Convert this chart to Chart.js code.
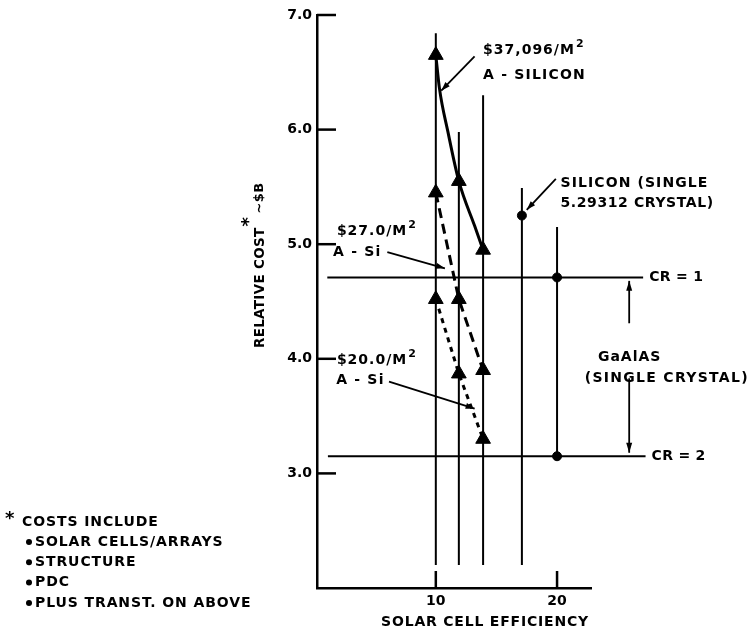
<!DOCTYPE html>
<html>
<head>
<meta charset="utf-8">
<script src="https://cdn.jsdelivr.net/npm/chart.js@4"></script>
<style>
html,body{margin:0;padding:0;background:#fff;}
canvas{display:block;}
</style>
</head>
<body>
<canvas id="c" width="750" height="634"></canvas>
<script>
// ---------- data ----------
const xTicks = [10, 20];
const yTicks = [3, 4, 5, 6, 7];

// vertical efficiency lines
const lineEff    = [10, 11.9, 13.9, 17.1, 20];
const lineTop    = [6.84, 5.98, 6.30, 5.49, 5.15];
const lineBottom = [2.2, 2.2, 2.2, 2.2, 3.15];

// a-Si triangles
const aSiEff   = [10, 11.9, 13.9];
const cost37096 = [6.65, 5.55, 4.95];
const cost27    = [5.45, 4.52, 3.90];
const cost20    = [4.52, 3.87, 3.30];

// solid $37,096 curve traced
const curveEff  = [10, 10.3, 11.0, 11.9, 13.2, 13.9];
const curveCost = [6.65, 6.36, 5.98, 5.55, 5.16, 4.95];

// single crystal points
const siEff = [17.1];
const siCost = [5.25];
const gaEff = [20, 20];
const crCost = [4.71, 3.15];        // CR = 1, CR = 2
const crStart = [1.05, 1.1];
const crEnd = [27.1, 27.3];
const crLabels = ['CR = 1', 'CR = 2'];

const FONT = '"DejaVu Sans", "Liberation Sans", sans-serif';

function pts(xs, ys){ return xs.map((x,i)=>({x:x, y:ys[i]})); }

const datasets = [];
lineEff.forEach((e,i)=>{
  datasets.push({data:[{x:e,y:lineBottom[i]},{x:e,y:lineTop[i]}], showLine:true, borderColor:'#000', borderWidth:2, pointRadius:0});
});
crCost.forEach((c,i)=>{
  datasets.push({data:[{x:crStart[i],y:c},{x:crEnd[i],y:c}], showLine:true, borderColor:'#000', borderWidth:2, pointRadius:0, clip:false});
});
datasets.push({data:pts(curveEff, curveCost), showLine:true, borderColor:'#000', borderWidth:3, pointRadius:0, cubicInterpolationMode:'monotone'});
datasets.push({data:pts(aSiEff, cost37096), showLine:false, pointStyle:'triangle', pointRadius:8.5, backgroundColor:'#000', borderColor:'#000', borderWidth:1});
datasets.push({data:pts(aSiEff, cost27), showLine:true, borderColor:'#000', borderWidth:3, borderDash:[10,6], pointStyle:'triangle', pointRadius:8.5, backgroundColor:'#000', pointBorderColor:'#000', pointBorderWidth:1});
datasets.push({data:pts(aSiEff, cost20), showLine:true, borderColor:'#000', borderWidth:3, borderDash:[5,5], pointStyle:'triangle', pointRadius:8.5, backgroundColor:'#000', pointBorderColor:'#000', pointBorderWidth:1});
datasets.push({data:pts(siEff, siCost).concat(pts(gaEff, crCost)), showLine:false, pointStyle:'circle', pointRadius:4.5, backgroundColor:'#000', borderColor:'#000', clip:false});

function arrowHead(ctx, x1, y1, x2, y2, len, wid){
  const a = Math.atan2(y2-y1, x2-x1);
  ctx.beginPath();
  ctx.moveTo(x2, y2);
  ctx.lineTo(x2 - len*Math.cos(a) + wid*Math.sin(a), y2 - len*Math.sin(a) - wid*Math.cos(a));
  ctx.lineTo(x2 - len*Math.cos(a) - wid*Math.sin(a), y2 - len*Math.sin(a) + wid*Math.cos(a));
  ctx.closePath();
  ctx.fill();
}
function arrow(ctx, x1, y1, x2, y2){
  ctx.beginPath(); ctx.moveTo(x1,y1); ctx.lineTo(x2,y2); ctx.stroke();
  arrowHead(ctx, x1, y1, x2, y2, 9, 3);
}
function txt(ctx, s, x, y, size, spacing, align){
  ctx.font = 'bold ' + size + 'px ' + FONT;
  ctx.letterSpacing = (spacing||0) + 'px';
  ctx.textAlign = align || 'left';
  ctx.textBaseline = 'middle';
  ctx.fillText(s, x, y);
  const w = ctx.measureText(s).width;
  ctx.letterSpacing = '0px';
  return w;
}
function txtM2(ctx, s, x, y){
  const w = txt(ctx, s, x, y, 14, 1);
  txt(ctx, '2', x + w + 1, y - 6, 11, 0);
}

const annot = {
  id: 'annot',
  afterDraw(chart){
    const ctx = chart.ctx;
    const xs = chart.scales.x, ys = chart.scales.y;
    const X = v => xs.getPixelForValue(v), Y = v => ys.getPixelForValue(v);
    const area = chart.chartArea;
    ctx.save();
    ctx.fillStyle = '#000'; ctx.strokeStyle = '#000';
    // inside tick marks
    ctx.lineWidth = 2.5;
    yTicks.forEach(v=>{ ctx.beginPath(); ctx.moveTo(area.left, Y(v)); ctx.lineTo(area.left+19, Y(v)); ctx.stroke(); });
    xTicks.forEach(v=>{ ctx.beginPath(); ctx.moveTo(X(v), area.bottom); ctx.lineTo(X(v), area.bottom-17); ctx.stroke(); });

    // leader arrows
    ctx.lineWidth = 1.8;
    arrow(ctx, X(13.2), Y(6.64), X(10.45), Y(6.34));
    arrow(ctx, X(6.0), Y(4.93), X(10.75), Y(4.79));
    arrow(ctx, X(6.14), Y(3.80), X(13.2), Y(3.565));
    arrow(ctx, X(19.9), Y(5.57), X(17.5), Y(5.30));

    // GaAlAs double arrow
    ctx.lineWidth = 1.8;
    ctx.beginPath(); ctx.moveTo(X(25.95), Y(4.31)); ctx.lineTo(X(25.95), Y(4.68)); ctx.stroke();
    arrowHead(ctx, X(25.95), Y(4.31), X(25.95), Y(4.68), 10, 3);
    ctx.beginPath(); ctx.moveTo(X(25.95), Y(3.83)); ctx.lineTo(X(25.95), Y(3.18)); ctx.stroke();
    arrowHead(ctx, X(25.95), Y(3.83), X(25.95), Y(3.18), 10, 3);

    // texts
    txtM2(ctx, '$37,096/M', X(13.9), Y(6.69));
    txt(ctx, 'A - SILICON', X(13.9), Y(6.47), 14, 1.2);
    txtM2(ctx, '$27.0/M', X(1.84), Y(5.11));
    txt(ctx, 'A - Si', X(1.53), Y(4.93), 14, 1.2);
    txtM2(ctx, '$20.0/M', X(1.84), Y(3.99));
    txt(ctx, 'A - Si', X(1.78), Y(3.81), 14, 1.2);
    txt(ctx, 'SILICON (SINGLE', X(20.28), Y(5.53), 14, 1.1);
    txt(ctx, '5.29312 CRYSTAL)', X(20.28), Y(5.36), 14, 0.6);
    crCost.forEach((c,i)=>{ txt(ctx, crLabels[i], X(crEnd[i]) + 6, Y(c), 14, 0.3); });
    txt(ctx, 'GaAlAS', X(23.37), Y(4.01), 14, 1);
    txt(ctx, '(SINGLE CRYSTAL)', X(22.28), Y(3.83), 14, 1.3);

    // x title
    txt(ctx, 'SOLAR CELL EFFICIENCY', 485, 622, 14, 0.8, 'center');

    // y title rotated
    ctx.save();
    ctx.translate(260, 348);
    ctx.rotate(-Math.PI/2);
    let w = txt(ctx, 'RELATIVE COST', 0, 0, 13.5, 0.3);
    txt(ctx, '*', w + 1, -11, 18, 0);
    txt(ctx, '~$B', w + 14, 0, 13, 0.5);
    ctx.restore();

    // footnote
    txt(ctx, '*', 5, 519, 18, 0);
    txt(ctx, 'COSTS INCLUDE', 22, 522, 14, 0.9);
    const notes = ['SOLAR CELLS/ARRAYS', 'STRUCTURE', 'PDC', 'PLUS TRANST. ON ABOVE'];
    notes.forEach((s,i)=>{
      const y = 542 + i*20.3;
      ctx.beginPath(); ctx.arc(29, y, 3, 0, Math.PI*2); ctx.fill();
      txt(ctx, s, 35, y, 14, 0.9);
    });
    ctx.restore();
  }
};

new Chart(document.getElementById('c'), {
  type: 'scatter',
  data: { datasets: datasets },
  options: {
    responsive: false,
    animation: false,
    devicePixelRatio: 1,
    layout: { padding: { top: 15, right: 159, left: 0, bottom: 0 } },
    plugins: { legend: { display: false }, tooltip: { enabled: false } },
    scales: {
      x: {
        type: 'linear', min: 0.2, max: 22.8,
        afterFit(s){ s.height = 46; },
        afterBuildTicks(s){ s.ticks = xTicks.map(v=>({value:v})); },
        grid: { display: false, drawTicks: false },
        border: { display: true, color: '#000', width: 2.5 },
        ticks: { color: '#000', padding: 5, font: { family: FONT, weight: 'bold', size: 14 }, callback: v => String(v) }
      },
      y: {
        type: 'linear', min: 2, max: 7,
        afterFit(s){ s.width = 317; },
        afterBuildTicks(s){ s.ticks = yTicks.map(v=>({value:v})); },
        grid: { display: false, drawTicks: false },
        border: { display: true, color: '#000', width: 2.5 },
        ticks: { color: '#000', padding: 5, font: { family: FONT, weight: 'bold', size: 14 }, callback: v => Number(v).toFixed(1) }
      }
    }
  },
  plugins: [annot]
});
</script>
</body>
</html>
